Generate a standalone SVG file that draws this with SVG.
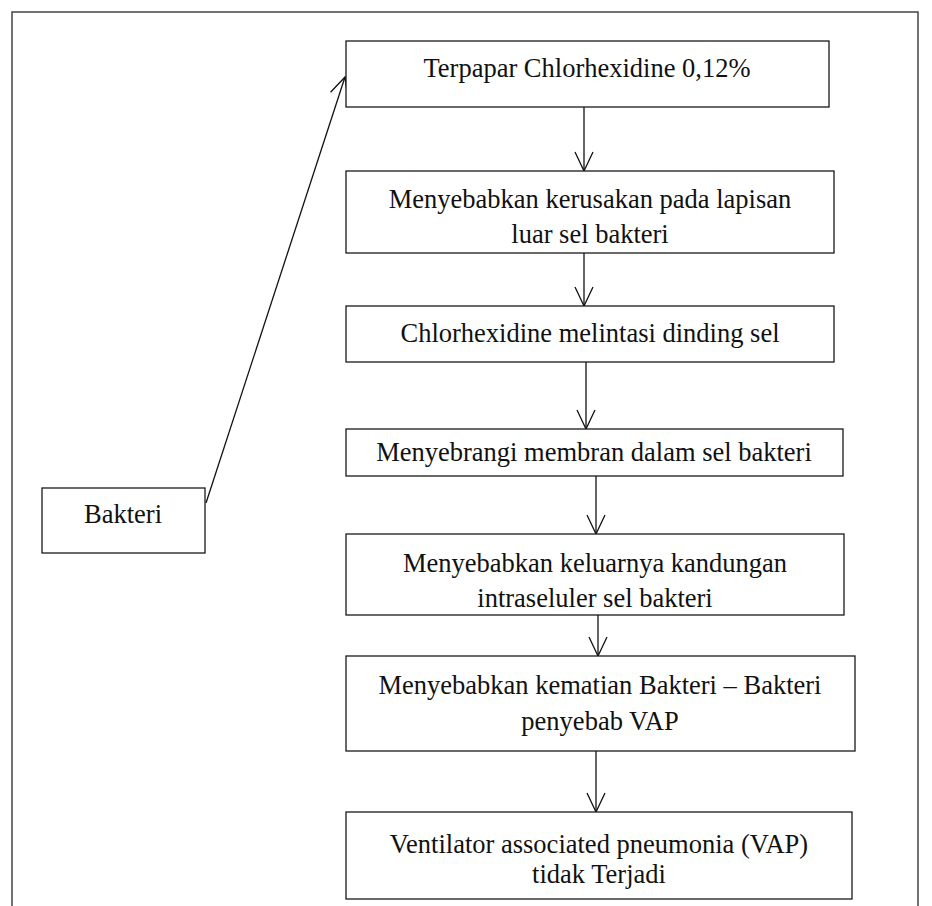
<svg xmlns="http://www.w3.org/2000/svg" width="932" height="906" viewBox="0 0 932 906">
<style>
.box{fill:#fff;stroke:#1a1a1a;stroke-width:1.3}
.lbl{font-family:"Liberation Serif","Times New Roman",serif;font-size:26.5px;fill:#111;text-anchor:middle}
.con{stroke:#111;stroke-width:1.3;fill:none}
.frame{stroke:#444;stroke-width:1.5;fill:none}
</style>
<defs>
<marker id="arr" markerUnits="userSpaceOnUse" markerWidth="40" markerHeight="40" refX="0" refY="0" orient="auto" overflow="visible">
<path d="M-19,-9 L0,0 L-19,9" fill="none" stroke="#111" stroke-width="1.3"/>
</marker>
</defs>
<rect width="932" height="906" fill="#fff"/>
<path class="frame" d="M12,906 V12 H918 V906"/>
<g id="connectors">
<line class="con" x1="206" y1="503" x2="345" y2="77" marker-end="url(#arr)"/>
<line class="con" x1="584" y1="107" x2="584" y2="171" marker-end="url(#arr)"/>
<line class="con" x1="584" y1="253" x2="584" y2="306" marker-end="url(#arr)"/>
<line class="con" x1="586" y1="362" x2="586" y2="429" marker-end="url(#arr)"/>
<line class="con" x1="596" y1="476" x2="596" y2="534" marker-end="url(#arr)"/>
<line class="con" x1="598" y1="615" x2="598" y2="656" marker-end="url(#arr)"/>
<line class="con" x1="596" y1="751" x2="596" y2="812" marker-end="url(#arr)"/>
</g>
<g id="bakteri">
<rect class="box" x="42" y="488" width="163" height="65"/>
<text class="lbl" x="123" y="523">Bakteri</text>
</g>
<g id="n1">
<rect class="box" x="346" y="41" width="483" height="66"/>
<text class="lbl" x="587" y="77">Terpapar Chlorhexidine 0,12%</text>
</g>
<g id="n2">
<rect class="box" x="346" y="171" width="488" height="82"/>
<text class="lbl" x="590" y="208">Menyebabkan kerusakan pada lapisan</text>
<text class="lbl" x="590" y="243">luar sel bakteri</text>
</g>
<g id="n3">
<rect class="box" x="346" y="306" width="488" height="56"/>
<text class="lbl" x="590" y="342">Chlorhexidine melintasi dinding sel</text>
</g>
<g id="n4">
<rect class="box" x="346" y="429" width="497" height="47"/>
<text class="lbl" x="594" y="461">Menyebrangi membran dalam sel bakteri</text>
</g>
<g id="n5">
<rect class="box" x="346" y="534" width="498" height="81"/>
<text class="lbl" x="595" y="572">Menyebabkan keluarnya kandungan</text>
<text class="lbl" x="595" y="607">intraseluler sel bakteri</text>
</g>
<g id="n6">
<rect class="box" x="346" y="656" width="509" height="95"/>
<text class="lbl" x="600" y="694">Menyebabkan kematian Bakteri – Bakteri</text>
<text class="lbl" x="600" y="730">penyebab VAP</text>
</g>
<g id="n7">
<rect class="box" x="346" y="812" width="506" height="87"/>
<text class="lbl" x="599" y="853">Ventilator associated pneumonia (VAP)</text>
<text class="lbl" x="599" y="883">tidak Terjadi</text>
</g>
</svg>
